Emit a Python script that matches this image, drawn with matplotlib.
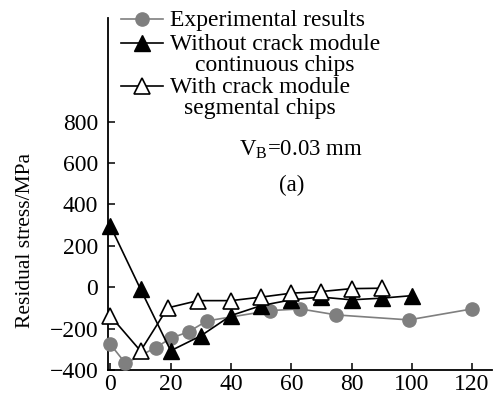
import matplotlib
matplotlib.use("Agg")
import matplotlib.pyplot as plt
from matplotlib.lines import Line2D

# data (distance in um -> residual stress in MPa)
exp_x = [0, 5, 15, 20, 26, 32, 53, 63, 75, 99, 120]
exp_y = [-276, -368, -292, -247, -215, -163, -113, -105, -134, -158, -105]

nocrack_x = [0, 10, 20, 30, 40, 50, 60, 70, 80, 90, 100]
nocrack_y = [295, -10, -307, -235, -137, -89, -61, -48, -61, -53, -41]

crack_x = [0, 10, 19, 29, 40, 50, 60, 70, 80, 90]
crack_y = [-139, -308, -100, -65, -65, -48, -29, -21, -7, -5]

yticks = [-400, -200, 0, 200, 400, 600, 800]
xticks = [0, 20, 40, 60, 80, 100, 120]

labels = ["Experimental results",
          "Without crack module\ncontinuous chips",
          "With crack module\nsegmental chips"]

plt.rcParams["font.family"] = ["Liberation Serif", "DejaVu Serif"]
plt.rcParams["mathtext.fontset"] = "custom"
plt.rcParams["mathtext.rm"] = "Liberation Serif"
plt.rcParams["axes.unicode_minus"] = True

FS = 17
W, H = 496, 400
fig = plt.figure(figsize=(W / 100, H / 100), dpi=100)
ax = fig.add_axes([108 / W, (H - 370) / H, (492 - 108) / W, (370 - 18) / H])

gray = "#7f7f7f"
styles = [dict(color=gray, marker="o", ms=9.5, mfc=gray, mec=gray),
          dict(color="black", marker="^", ms=11, mfc="black", mec="black"),
          dict(color="black", marker="^", ms=11, mfc="white", mec="black",
               mew=1.2)]

ax.plot(exp_x, exp_y, lw=1.2, zorder=3, clip_on=False, **styles[0])
ax.plot(nocrack_x, nocrack_y, lw=1.2, zorder=4, clip_on=False, **styles[1])
ax.plot(crack_x, crack_y, lw=1.2, zorder=5, clip_on=False, **styles[2])

ax.set_xlim(-0.8, 126.6)
ax.set_ylim(-400, 1300)
ax.set_xticks(xticks)
ax.set_yticks(yticks)
ax.set_yticklabels(["\u2212400", "\u2212200", "0", "200", "400", "600", "800"])
ax.tick_params(direction="in", length=5, width=1.1, labelsize=FS)
ax.tick_params(axis="y", pad=7)
ax.tick_params(axis="x", pad=3)
for side in ["top", "right"]:
    ax.spines[side].set_visible(False)
for side in ["left", "bottom"]:
    ax.spines[side].set_linewidth(1.3)

fig.text(26 / W, 1 - 240 / H, "Residual stress/MPa", rotation=90,
         ha="center", va="center", fontsize=15.5)


# legend drawn by hand: handle sits on the first line of each label
def px(x, y):
    return x / W, 1 - y / H


rows = [19, 43, 86]
# baseline of the last line of each label (multi-line text aligns on it)
bases = [26, 71, 114]
for ry, by, st, lab in zip(rows, bases, styles, labels):
    x0, y0 = px(121, ry)
    x1, _ = px(163, ry)
    fig.add_artist(Line2D([x0, (x0 + x1) / 2, x1], [y0, y0, y0], lw=1.2,
                          markevery=[1], transform=fig.transFigure, **st))
    tx, ty = px(170, by)
    fig.text(tx, ty, lab, ha="left", va="baseline", fontsize=FS,
             multialignment="center", linespacing=1.02)

tx, ty = px(239, 155)
fig.text(tx, ty, r"V$_\mathrm{B}$=0.03 mm", ha="left", va="baseline", fontsize=16.5)
tx, ty = px(292, 185)
fig.text(tx, ty, "(a)", ha="center", va="center", fontsize=16.5)

fig.savefig("out.png", dpi=100)
